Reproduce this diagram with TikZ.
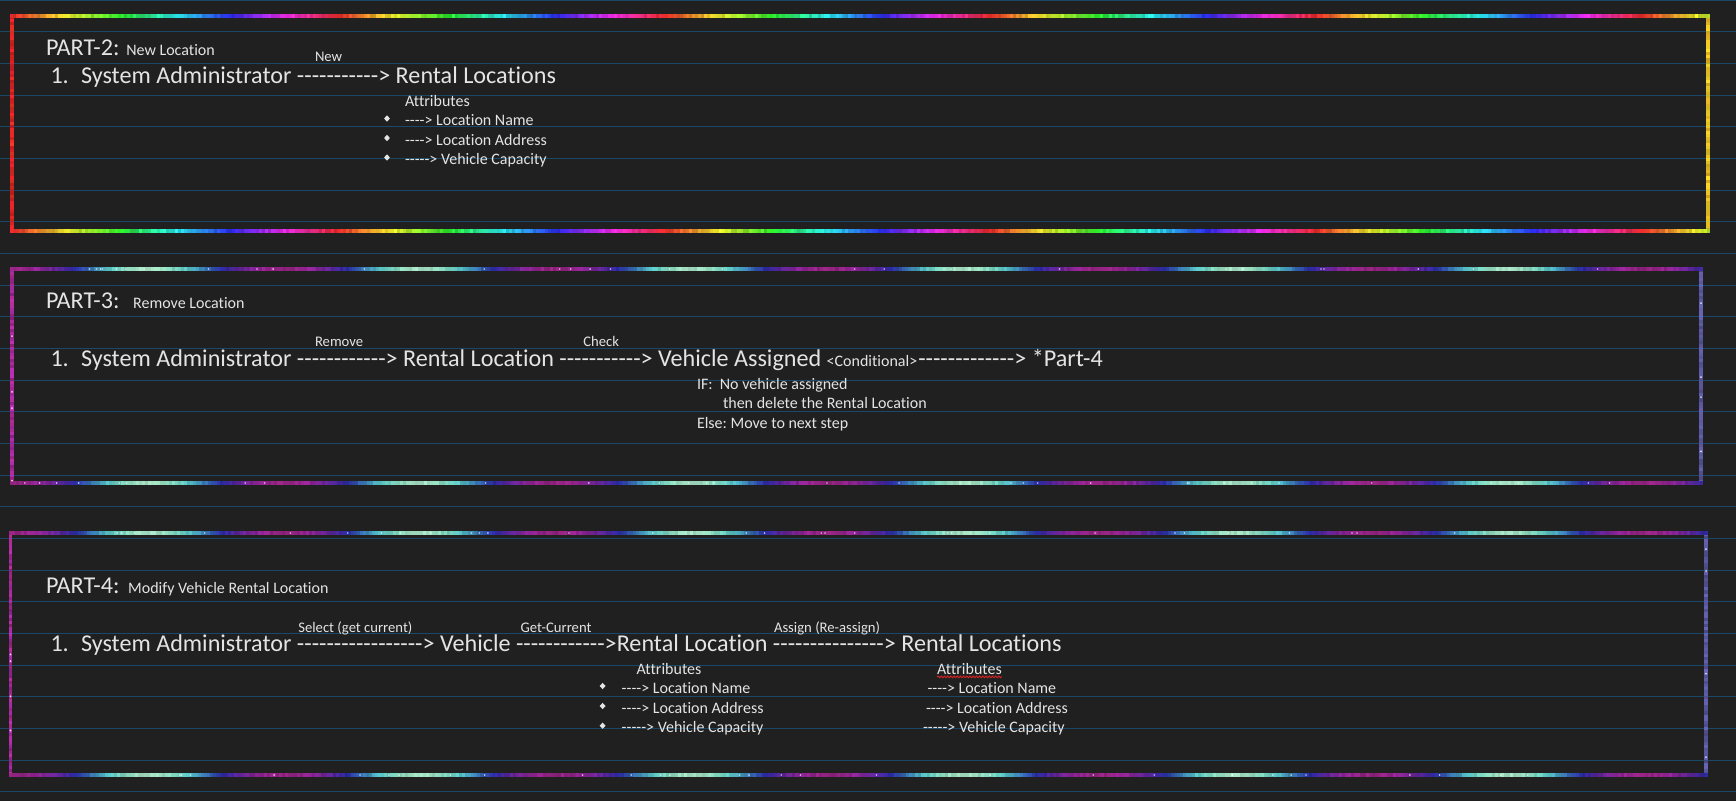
\documentclass[tikz,border=0pt]{standalone}
\usepackage{fontspec}
\setmainfont{Carlito}[Ligatures=CommonOff]
\usetikzlibrary{shapes.geometric,decorations.pathmorphing}
\frenchspacing

\definecolor{pagebg}{RGB}{32,32,32}
\definecolor{ruleblue}{RGB}{28,72,104}
\definecolor{ink}{RGB}{228,228,228}
\definecolor{spell}{RGB}{215,35,35}

% a run of plain hyphens, kept apart so they never merge into dashes
\newcount\dashcnt
\newcommand\dashrun[1]{\dashcnt=#1\relax\loop-\kern0pt\advance\dashcnt by -1\relax\ifnum\dashcnt>0\repeat}

% colour pickers for the glitter borders (each defines colour gl)
\newcommand\rainbowcol[1]{%
  \pgfmathsetmacro\hue{mod((#1-12)/325.6*360+720,360)}%
  \pgfmathsetmacro\bri{0.78+0.22*rnd}%
  \definecolor{gl}{Hsb}{\hue,0.82,\bri}}
\newcommand\galaxycol[1]{%
  \pgfmathsetmacro\mix{(1+cos((#1-283)/272*360))/2}%
  \pgfmathsetmacro\hue{150+160*\mix}%
  \pgfmathsetmacro\sat{0.76-0.5*(1-\mix)^4}%
  \pgfmathsetmacro\bri{0.5+0.3*(1-\mix)^2+0.14*rnd}%
  \definecolor{gl}{Hsb}{\hue,\sat,\bri}}
\newcommand\redside[1]{%
  \pgfmathsetmacro\hue{mod(356+10*rnd,360)}%
  \pgfmathsetmacro\bri{0.7+0.28*rnd}%
  \definecolor{gl}{Hsb}{\hue,0.85,\bri}}
\newcommand\goldside[1]{%
  \pgfmathsetmacro\hue{44+8*rnd}%
  \pgfmathsetmacro\bri{0.78+0.22*rnd}%
  \definecolor{gl}{Hsb}{\hue,0.85,\bri}}
\newcommand\magside[1]{%
  \pgfmathsetmacro\hue{298+16*rnd}%
  \pgfmathsetmacro\bri{0.5+0.25*rnd}%
  \definecolor{gl}{Hsb}{\hue,0.75,\bri}}
\newcommand\slateside[1]{%
  \pgfmathsetmacro\hue{236+10*rnd}%
  \pgfmathsetmacro\bri{0.5+0.22*rnd}%
  \definecolor{gl}{Hsb}{\hue,0.45,\bri}}

% horizontal glitter edge: x1, x2, y, colour picker
\newcommand\edgeh[4]{%
  \pgfmathtruncatemacro\nseg{(#2-#1)/3}%
  \pgfmathsetmacro\sstep{(#2-#1)/\nseg}%
  \foreach \i in {1,...,\nseg}{%
    \pgfmathsetmacro\xa{#1+(\i-1)*\sstep}%
    #4{\xa}%
    \draw[gl,glint] (\xa,#3) -- ++(\sstep+0.4,0);
  }}
% vertical glitter edge: y1, y2, x, colour picker
\newcommand\edgev[4]{%
  \pgfmathtruncatemacro\nseg{(#2-#1)/3}%
  \pgfmathsetmacro\sstep{(#2-#1)/\nseg}%
  \foreach \i in {1,...,\nseg}{%
    \pgfmathsetmacro\ya{#1+(\i-1)*\sstep}%
    #4{\ya}%
    \draw[gl,glint] (#3,\ya) -- ++(0,\sstep+0.4);
  }}
% white sparkles along a frame: x1, y1, x2, y2, count
\newcommand\sparkles[5]{%
  \foreach \k in {1,...,#5}{%
    \pgfmathsetmacro\px{#1+rnd*(#3-#1)}%
    \fill[white,opacity=0.7] (\px,#2) circle (0.9pt);
    \pgfmathsetmacro\px{#1+rnd*(#3-#1)}%
    \fill[white,opacity=0.7] (\px,#4) circle (0.9pt);
  }
  \foreach \k in {1,...,4}{%
    \pgfmathsetmacro\py{#2+rnd*(#4-#2)}%
    \fill[white,opacity=0.8] (#1,\py) circle (1pt);
    \pgfmathsetmacro\py{#2+rnd*(#4-#2)}%
    \fill[white,opacity=0.8] (#3,\py) circle (1pt);
  }}

\tikzset{
  txt/.style={anchor=base west, inner sep=0pt, outer sep=0pt, text=ink},
  big/.style={txt, font=\fontsize{24.15}{28}\selectfont},
  mid/.style={txt, font=\fontsize{16}{19}\selectfont},
  lab/.style={txt, font=\fontsize{14.67}{17}\selectfont},
  gem/.style={diamond, fill=ink, inner sep=0pt, minimum width=6pt, minimum height=6.5pt},
  glint/.style={line width=3.6pt},
}

\begin{document}
\begin{tikzpicture}[x=1pt,y=-1pt]
\pgfmathsetseed{42}
\useasboundingbox (0,0) rectangle (1736,801);
\fill[pagebg] (0,0) rectangle (1736,801);

% ruled page lines
\foreach \k in {0,...,25}
  \draw[ruleblue, line width=1pt] (0,\k*31.667) -- (1736,\k*31.667);

% ---------- rainbow frame ----------
\edgev{16}{231}{12}{\redside}
\edgev{16}{231}{1708}{\goldside}
\edgeh{10}{1710}{16}{\rainbowcol}
\edgeh{10}{1710}{231}{\rainbowcol}

% ---------- galaxy frames ----------
\edgev{269}{483}{12}{\magside}
\edgev{269}{483}{1701}{\slateside}
\edgeh{10}{1703}{269}{\galaxycol}
\edgeh{10}{1703}{483}{\galaxycol}
\sparkles{12}{269}{1701}{483}{30}

\edgev{533}{775}{10.5}{\magside}
\edgev{533}{775}{1706}{\slateside}
\edgeh{8.5}{1708}{533}{\galaxycol}
\edgeh{8.5}{1708}{775}{\galaxycol}
\sparkles{10.5}{533}{1706}{775}{30}

% ---------- PART-2 ----------
\node[big] (p2title) at (46,55) {PART-2:};
\node[mid] (p2sub) at (126.3,55) {New Location};
\node[lab] (p2new) at (315,61.5) {New};
\node[big] (p2num) at (50.5,83.3) {1.};
\node[big] (p2flow) at (81,83.3) {System Administrator \dashrun{11}> Rental Locations};
\node[mid] (p2attr) at (405,106) {Attributes};
\node[gem] (p2b1) at (387,118.5) {};
\node[mid] (p2a1) at (405,125) {\dashrun{4}> Location Name};
\node[gem] (p2b2) at (387,138) {};
\node[mid] (p2a2) at (405,145) {\dashrun{4}> Location Address};
\node[gem] (p2b3) at (387,157.5) {};
\node[mid] (p2a3) at (405,164.5) {\dashrun{5}> Vehicle Capacity};

% ---------- PART-3 ----------
\node[big] (p3title) at (46,308.3) {PART-3:};
\node[mid] (p3sub) at (133.2,308.3) {Remove Location};
\node[lab] (p3rm) at (315,346.7) {Remove};
\node[lab] (p3ck) at (583.3,346.7) {Check};
\node[big] (p3num) at (50.5,366.7) {1.};
\node[big] (p3flow) at (81,366.7) {System Administrator \dashrun{12}> Rental Location \dashrun{11}> Vehicle Assigned};
\node[mid] (p3cond) at (826.7,366.7) {<Conditional>};
\node[big] (p3next) at (918.3,366.7) {\dashrun{13}> *Part-4};
\node[mid] (p3if) at (697,389.3) {IF:\ \ No vehicle assigned};
\node[mid] (p3then) at (723,408.3) {then delete the Rental Location};
\node[mid] (p3else) at (697,428.3) {Else: Move to next step};

% ---------- PART-4 ----------
\node[big] (p4title) at (46,593) {PART-4:};
\node[mid] (p4sub) at (128.2,593) {Modify Vehicle Rental Location};
\node[lab] (p4sel) at (298.3,632) {Select (get current)};
\node[lab] (p4get) at (520.7,632) {Get-Current};
\node[lab] (p4asg) at (774,632) {Assign (Re-assign)};
\node[big] (p4num) at (50.5,651.7) {1.};
\node[big] (p4flow) at (81,651.7) {System Administrator \dashrun{17}> Vehicle \dashrun{12}>Rental Location \dashrun{15}> Rental Locations};

\node[mid] (p4lattr) at (636.6,674.3) {Attributes};
\node[gem] (p4lb1) at (602.6,686) {};
\node[mid] (p4la1) at (621.7,693.3) {\dashrun{4}> Location Name};
\node[gem] (p4lb2) at (602.6,706) {};
\node[mid] (p4la2) at (621.7,713.3) {\dashrun{4}> Location Address};
\node[gem] (p4lb3) at (602.6,725.7) {};
\node[mid] (p4la3) at (621.7,732.7) {\dashrun{5}> Vehicle Capacity};

\node[mid] (p4rattr) at (937,674.3) {Attributes};
\draw[spell, line width=0.9pt, decorate, decoration={snake, amplitude=0.9pt, segment length=3.2pt}]
  ([yshift=-2.6pt]p4rattr.base west) -- ([yshift=-2.6pt]p4rattr.base east);
\node[mid] (p4ra1) at (927.5,693.3) {\dashrun{4}> Location Name};
\node[mid] (p4ra2) at (926,713.3) {\dashrun{4}> Location Address};
\node[mid] (p4ra3) at (923,732.7) {\dashrun{5}> Vehicle Capacity};
\end{tikzpicture}
\end{document}
